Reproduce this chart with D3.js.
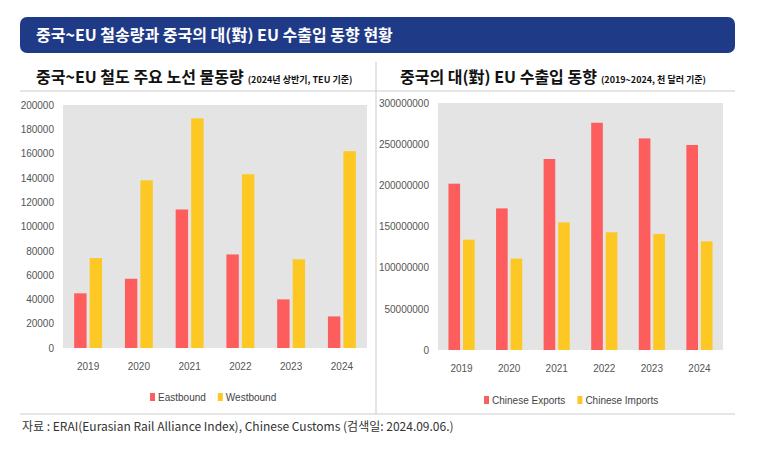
<!DOCTYPE html>
<html><head><meta charset="utf-8">
<script src="https://cdn.jsdelivr.net/npm/d3@7"></script>
<style>body{margin:0;background:#fff;font-family:"Noto Sans CJK KR","Noto Sans",sans-serif}</style>
</head><body><div id="canvas"></div>
<script>
const years = ['2019', '2020', '2021', '2022', '2023', '2024']
const eastbound = [45000, 57000, 114000, 77000, 40000, 26000]
const westbound = [74000, 138000, 189000, 143000, 73000, 162000]
const exportsEU = [202000000, 172000000, 232000000, 276000000, 257000000, 249000000]
const importsEU = [134000000, 111000000, 155000000, 143000000, 141000000, 132000000]
const leftTicks = [0, 20000, 40000, 60000, 80000, 100000, 120000, 140000, 160000, 180000, 200000]
const rightTicks = [0, 50000000, 100000000, 150000000, 200000000, 250000000, 300000000]

const red = '#fe5d5d', yellow = '#fec824'
const svg = d3.select('#canvas').append('svg').attr('width', 764).attr('height', 450)

// header
svg.append('rect').attr('x', 20).attr('y', 17).attr('width', 715).attr('height', 36).attr('rx', 7).attr('fill', '#1f3b87')
svg.append('text').attr('x', 36).attr('y', 41).attr('fill', '#fff').attr('font-size', 16).attr('font-weight', 700)
    .text('중국~EU 철송량과 중국의 대(對) EU 수출입 동향 현황')

// panel frame
svg.append('line').attr('x1', 20).attr('x2', 735).attr('y1', 91).attr('y2', 91).attr('stroke', '#ccc')
svg.append('line').attr('x1', 20).attr('x2', 735).attr('y1', 414).attr('y2', 414).attr('stroke', '#ccc')
svg.append('line').attr('x1', 376).attr('x2', 376).attr('y1', 62).attr('y2', 414).attr('stroke', '#ccc')

function panel(cfg) {
    const g = svg.append('g')
    const t = g.append('text').attr('x', cfg.titleX).attr('y', 83).attr('fill', '#111')
    t.append('tspan').attr('font-size', 16).attr('font-weight', 700).text(cfg.title)
    t.append('tspan').attr('font-size', 9).attr('font-weight', 700).attr('dx', 4).text(cfg.sub)

    const x = d3.scaleBand().domain(years).range([cfg.x0, cfg.x1]).paddingInner(0.45).paddingOuter(0.22)
    const y = d3.scaleLinear().domain([0, d3.max(cfg.ticks)]).range([cfg.y0, cfg.y1])
    g.append('rect').attr('x', cfg.x0).attr('y', cfg.y1).attr('width', cfg.x1 - cfg.x0).attr('height', cfg.y0 - cfg.y1).attr('fill', '#e4e4e4')

    const inner = d3.scaleBand().domain([0, 1]).range([0, x.bandwidth()]).paddingInner(0.2)
    cfg.series.forEach((s, si) => {
        g.append('g').selectAll('rect').data(s.values).enter().append('rect')
            .attr('x', (d, i) => x(years[i]) + inner(si))
            .attr('y', d => y(d))
            .attr('width', inner.bandwidth())
            .attr('height', d => cfg.y0 - y(d))
            .attr('fill', s.color)
    })

    const ya = g.append('g').attr('transform', `translate(${cfg.x0 - 6},0)`)
        .call(d3.axisLeft(y).tickValues(cfg.ticks).tickSize(0).tickFormat(d => String(d)))
    ya.select('.domain').remove()
    ya.selectAll('text').attr('font-size', 10).attr('fill', '#555').attr('font-family', 'Liberation Sans Narrow, sans-serif')

    const xa = g.append('g').attr('transform', `translate(0,${cfg.y0 + 12})`)
        .call(d3.axisBottom(x).tickSize(0))
    xa.select('.domain').remove()
    xa.selectAll('text').attr('font-size', 10).attr('fill', '#555').attr('font-family', 'Liberation Sans Narrow, sans-serif')

    const lg = g.append('g').attr('transform', `translate(${cfg.legendX},${cfg.legendY})`)
    let off = 0
    cfg.series.forEach(s => {
        lg.append('rect').attr('x', off).attr('y', -8).attr('width', 5).attr('height', 8).attr('fill', s.color)
        const tx = lg.append('text').attr('x', off + 8).attr('y', 0).attr('font-size', 10).attr('fill', '#444')
            .attr('font-family', 'Liberation Sans Narrow, sans-serif').text(s.name)
        off += tx.node().getComputedTextLength() + 20
    })
}

panel({
    title: '중국~EU 철도 주요 노선 물동량', sub: '(2024년 상반기, TEU 기준)', titleX: 36,
    x0: 63, x1: 367, y0: 348, y1: 105, ticks: leftTicks, legendX: 150, legendY: 401,
    series: [{ name: 'Eastbound', values: eastbound, color: red }, { name: 'Westbound', values: westbound, color: yellow }]
})
panel({
    title: '중국의 대(對) EU 수출입 동향', sub: '(2019~2024, 천 달러 기준)', titleX: 400,
    x0: 438, x1: 723, y0: 350, y1: 103, ticks: rightTicks, legendX: 484, legendY: 404,
    series: [{ name: 'Chinese Exports', values: exportsEU, color: red }, { name: 'Chinese Imports', values: importsEU, color: yellow }]
})

svg.append('text').attr('x', 22).attr('y', 431).attr('font-size', 12).attr('fill', '#333')
    .text('자료 : ERAI(Eurasian Rail Alliance Index), Chinese Customs (검색일: 2024.09.06.)')
</script></body></html>
